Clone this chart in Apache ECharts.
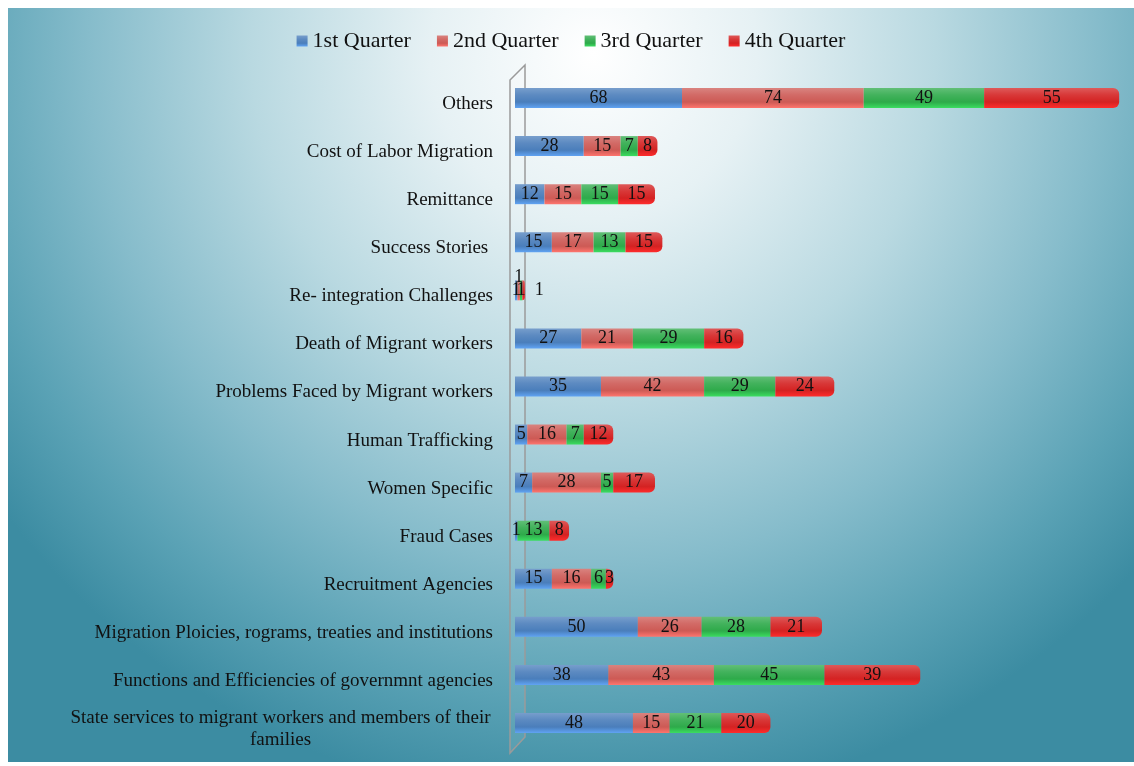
<!DOCTYPE html>
<html>
<head>
<meta charset="utf-8">
<script src="https://cdn.jsdelivr.net/npm/echarts@6/dist/echarts.min.js"></script>
<style>
    html, body { margin: 0; padding: 0; background: #ffffff; }
    #chart {
        position: absolute; left: 8px; top: 8px; width: 1126px; height: 754px;
        background: radial-gradient(ellipse 66% 100% at 52% 6%, #ffffff 0%, #e6f1f4 22%, #b9d9e1 46%, #86bccb 68%, #5aa2b5 86%, #3c8ca2 100%);
    }
</style>
</head>
<body>
<div id="chart"></div>
<script>
// categories, top to bottom
var categories = [
    'Others',
    'Cost of Labor Migration',
    'Remittance',
    'Success Stories ',
    'Re- integration Challenges',
    'Death of Migrant workers',
    'Problems Faced by Migrant workers',
    'Human Trafficking',
    'Women Specific',
    'Fraud Cases',
    'Recruitment Agencies',
    'Migration Ploicies, rograms, treaties and institutions',
    'Functions and Efficiencies of governmnt agencies',
    'State services to migrant workers and members of their families'
];
var q1 = [68, 28, 12, 15, 1, 27, 35, 5, 7, 1, 15, 50, 38, 48];
var q2 = [74, 15, 15, 17, 1, 21, 42, 16, 28, 0, 16, 26, 43, 15];
var q3 = [49, 7, 15, 13, 1, 29, 29, 7, 5, 13, 6, 28, 45, 21];
var q4 = [55, 8, 15, 15, 1, 16, 24, 12, 17, 8, 3, 21, 39, 20];
var seriesNames = ['1st Quarter', '2nd Quarter', '3rd Quarter', '4th Quarter'];
var seriesColors = ['#4a7ebb', '#cd5a55', '#2eaa4a', '#d42222'];

/**
 * 圆柱效果的渐变色
 */
function cylinder(base) {
    var c = echarts.color;
    return new echarts.graphic.LinearGradient(0, 0, 0, 1, [
        {offset: 0, color: c.lift(base, 0.25)},
        {offset: 0.35, color: c.lift(base, 0.1)},
        {offset: 0.7, color: base},
        {offset: 1, color: c.lift(base, -0.3)}
    ]);
}

var myChart = echarts.init(document.getElementById('chart'));
var valueLists = [q1, q2, q3, q4];
// 很短的柱子标签挪到外面
var smallLabelPos = [null, 'top', null, 'right'];
var series = [];
for (var i = 0; i < 4; i++) {
    var items = valueLists[i].map(function (v, idx) {
        if (categories[idx].indexOf('Re- integration') === 0 && smallLabelPos[i]) {
            return {value: v, label: {position: smallLabelPos[i], distance: smallLabelPos[i] === 'right' ? 10 : -6}};
        }
        return v;
    });
    series.push({
        name: seriesNames[i],
        type: 'bar',
        stack: 'total',
        barWidth: 20,
        data: items,
        itemStyle: {
            color: cylinder(seriesColors[i]),
            borderRadius: i === 3 ? [0, 6, 6, 0] : 0
        },
        label: {
            show: true,
            position: 'inside',
            color: '#111',
            fontFamily: 'Liberation Serif',
            fontSize: 18,
            formatter: function (p) { return p.value ? String(p.value) : ''; }
        }
    });
}

myChart.setOption({
    backgroundColor: 'transparent',
    color: seriesColors,
    legend: {
        top: 17,
        left: 'center',
        itemWidth: 11,
        itemHeight: 11,
        itemGap: 26,
        icon: 'rect',
        textStyle: {fontFamily: 'Liberation Serif', fontSize: 22, color: '#111'},
        data: seriesNames
    },
    grid: {
        left: 507,
        right: 5,
        top: 66,
        bottom: 15
    },
    xAxis: {
        type: 'value',
        min: 0,
        max: 250,
        show: false
    },
    yAxis: {
        type: 'category',
        inverse: true,
        data: categories,
        axisTick: {show: false},
        axisLine: {show: false},
        axisLabel: {
            margin: 22,
            color: '#111',
            fontFamily: 'Liberation Serif',
            fontSize: 19,
            padding: [12, 0, 0, 0],
            formatter: function (v) {
                if (v.indexOf('State services') === 0) {
                    return '{w|State services to migrant workers and members of their\nfamilies}';
                }
                return v;
            },
            rich: {
                w: {
                    width: 425,
                    align: 'center',
                    fontFamily: 'Liberation Serif',
                    fontSize: 19,
                    color: '#111',
                    lineHeight: 22
                }
            }
        }
    },
    graphic: [{
        type: 'polygon',
        silent: true,
        z: -1,
        shape: {points: [[502, 72], [517, 57], [517, 729], [502, 745]]},
        style: {fill: 'rgba(255,255,255,0.08)', stroke: '#9a9a9a', lineWidth: 1.5}
    }],
    series: series
});
</script>
</body>
</html>
